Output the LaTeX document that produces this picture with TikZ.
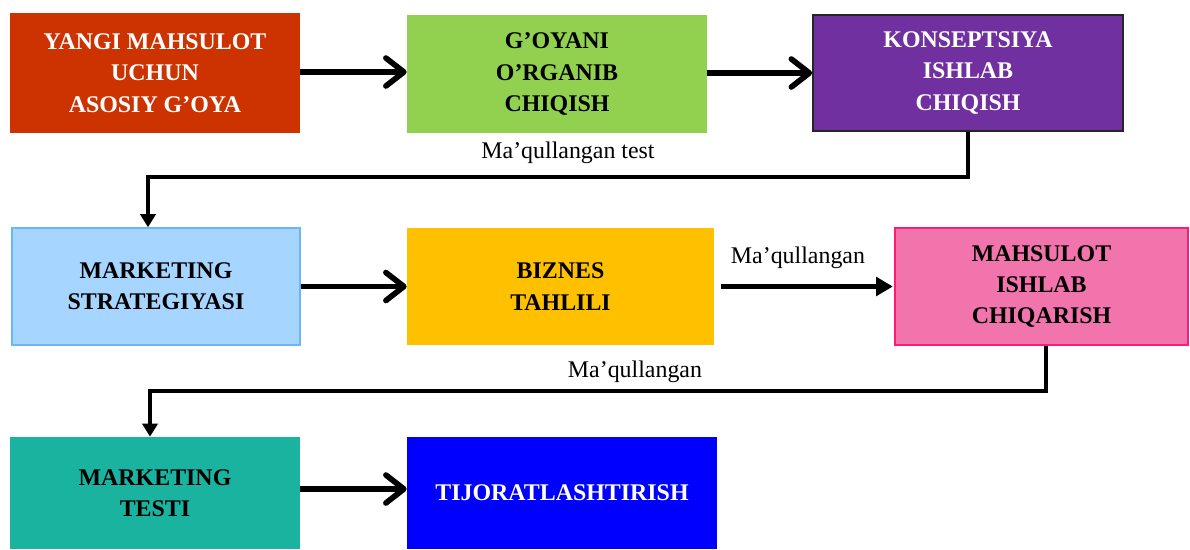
\documentclass[tikz,border=0pt]{standalone}
\usepackage{fontspec}
\setmainfont{Liberation Serif}
\usetikzlibrary{arrows.meta,positioning,calc}
\definecolor{IdeaRed}{HTML}{CC3300}
\definecolor{StudyGreen}{HTML}{92D050}
\definecolor{ConceptPurple}{HTML}{7030A0}
\definecolor{StrategyBlue}{HTML}{A6D5FF}
\definecolor{StrategyEdge}{HTML}{6DB6F5}
\definecolor{BizOrange}{HTML}{FFC000}
\definecolor{ProdPink}{HTML}{F174AC}
\definecolor{ProdEdge}{HTML}{FF1A75}
\definecolor{TestTeal}{HTML}{1AB39F}
\definecolor{TradeBlue}{HTML}{0000FF}
\tikzset{
    % Base box style
    stagebox/.style={
        draw=none,
        minimum height=2.9cm,
        align=center,
        inner sep=0pt,
        font=\fontsize{17}{22.2}\selectfont\bfseries
    },
    % Box with white text
    darkbox/.style={
        stagebox,
        text=white
    },
    % Box with black text
    lightbox/.style={
        stagebox,
        text=black
    },
    % Thick arrow with open head
    stepArrow/.style={
        -{Straight Barb[length=4.5mm,width=7mm,round]},
        line width=4pt,
        draw=black
    },
    % Thick arrow with filled head
    passArrow/.style={
        -{Triangle[length=4.2mm,width=4.6mm]},
        line width=4pt,
        draw=black
    },
    % Elbow return line
    elbowArrow/.style={
        -{Triangle[length=3.3mm,width=3.8mm]},
        line width=2.6pt,
        draw=black
    },
    % Plain label
    steplabel/.style={
        font=\fontsize{17}{20}\selectfont,
        inner sep=0pt
    }
}
\begin{document}
\begin{tikzpicture}
    \useasboundingbox (0,0) rectangle (29.75,-13.725);

    % first row
    \node[darkbox, fill=IdeaRed, minimum width=7.25cm, minimum height=3cm] (idea) at (3.875,-1.825) {YANGI MAHSULOT\\UCHUN\\ASOSIY G’OYA};
    \node[lightbox, fill=StudyGreen, minimum width=7.5cm, minimum height=2.95cm] (study) at (13.925,-1.85) {G’OYANI\\O’RGANIB\\CHIQISH};
    \node[darkbox, fill=ConceptPurple, draw=black!85, line width=1.2pt, minimum width=7.75cm] (concept) at (24.2,-1.825) {KONSEPTSIYA\\ISHLAB\\CHIQISH};

    % second row
    \node[lightbox, fill=StrategyBlue, draw=StrategyEdge, line width=1pt, minimum width=7.2cm, minimum height=2.925cm] (strategy) at (3.9,-7.1625) {MARKETING\\STRATEGIYASI};
    \node[lightbox, fill=BizOrange, minimum width=7.675cm, minimum height=2.925cm] (biz) at (14.0125,-7.1625) {BIZNES\\TAHLILI};
    \node[lightbox, fill=ProdPink, draw=ProdEdge, line width=1pt, minimum width=7.325cm, minimum height=2.925cm] (prod) at (26.0375,-7.1625) {MAHSULOT\\ISHLAB\\CHIQARISH};

    % third row
    \node[lightbox, fill=TestTeal, minimum width=7.25cm, minimum height=2.8cm] (test) at (3.875,-12.325) {MARKETING\\TESTI};
    \node[darkbox, fill=TradeBlue, minimum width=7.75cm, minimum height=2.8cm] (trade) at (14.05,-12.325) {TIJORATLASHTIRISH};

    % labels
    \node[steplabel] (lbla) at (14.2,-3.825) {Ma’qullangan test};
    \node[steplabel] (lblb) at (19.95,-6.45) {Ma’qullangan};
    \node[steplabel] (lblc) at (15.875,-9.3) {Ma’qullangan};

    % bends of the return lines
    \coordinate (bendA) at (3.7,-4.425);
    \coordinate (bendB) at (3.75,-9.775);

    \draw[stepArrow] ([yshift=0.025cm]idea.east) -- ([yshift=0.025cm]idea.east -| study.west);
    \draw[stepArrow] ([yshift=0.025cm]study.east) -- ([yshift=0.025cm]study.east -| concept.west);
    \draw[elbowArrow] (concept.south) |- (bendA) -- (bendA |- strategy.north);

    \draw[stepArrow] (strategy.east) -- (biz.west);
    \draw[passArrow, shorten <=5pt, shorten >=1pt] (biz.east) -- (prod.west);
    \draw[elbowArrow] ([xshift=0.11cm]prod.south) |- (bendB) -- (bendB |- test.north);

    \draw[stepArrow] ([yshift=0.1cm]test.east) -- ([yshift=0.1cm]trade.west);
\end{tikzpicture}
\end{document}
